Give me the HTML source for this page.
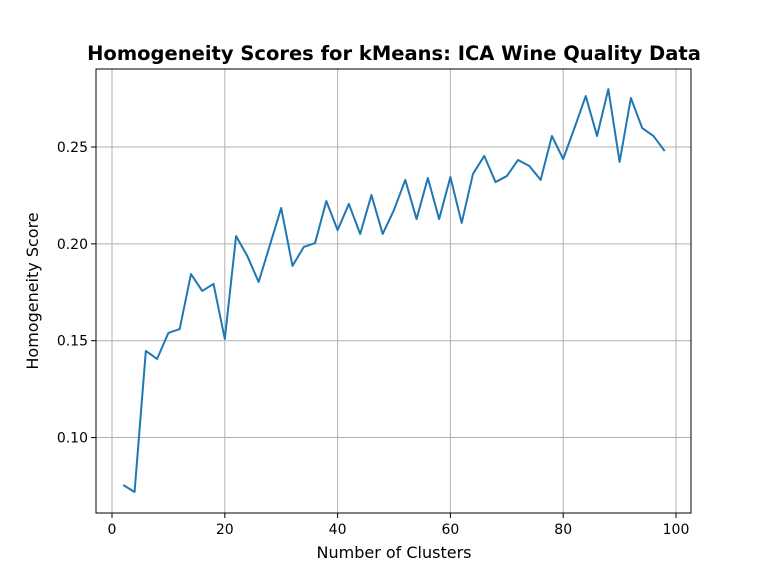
<!DOCTYPE html>
<html><head><meta charset="utf-8"><style>body{margin:0;background:#fff}svg{display:block;font-family:"DejaVu Sans","Liberation Sans",sans-serif}</style></head>
<body>
<svg id="chart" width="768" height="576"></svg>
<script>
const xValues = [2,4,6,8,10,12,14,16,18,20,22,24,26,28,30,32,34,36,38,40,42,44,46,48,50,52,54,56,58,60,62,64,66,68,70,72,74,76,78,80,82,84,86,88,90,92,94,96,98];
const yValues = [0.0755,0.0719,0.1447,0.1406,0.154,0.156,0.1844,0.1757,0.1793,0.1509,0.204,0.1937,0.1803,0.1994,0.2185,0.1886,0.1984,0.2004,0.2221,0.2071,0.2206,0.2051,0.2252,0.2051,0.2175,0.233,0.2128,0.234,0.2128,0.2345,0.2108,0.2361,0.2454,0.2319,0.235,0.2433,0.2402,0.233,0.2557,0.2438,0.2598,0.2763,0.2557,0.2799,0.2423,0.2753,0.2598,0.2557,0.2479];
const xTicks = [0,20,40,60,80,100];
const yTicks = [0.10,0.15,0.20,0.25];
const NS="http://www.w3.org/2000/svg";
const svg=document.getElementById('chart');
const L=96,R=691,T=69,B=513;
const X=v=>112+(v-0)*5.64;
const Y=v=>147-(v-0.25)*1937;
function mk(t,a,p){const e=document.createElementNS(NS,t);for(const k in a)e.setAttribute(k,a[k]);(p||svg).appendChild(e);return e;}
xTicks.forEach(t=>{
  const g=mk('line',{x1:X(t),x2:X(t),y1:T,y2:B,stroke:'#b0b0b0','stroke-width':1});
  
  
  mk('line',{x1:X(t),x2:X(t),y1:B,y2:B+5,stroke:'#000'});
  const tx=mk('text',{x:X(t),y:B+21,'text-anchor':'middle','font-size':14});
  tx.textContent=t;
  
  
});
yTicks.forEach(t=>{
  const g=mk('line',{x1:L,x2:R,y1:Y(t),y2:Y(t),stroke:'#b0b0b0','stroke-width':1});
  
  
  mk('line',{x1:L-5,x2:L,y1:Y(t),y2:Y(t),stroke:'#000'});
  const tx=mk('text',{x:L-8,y:Y(t)+5,'text-anchor':'end','font-size':14});
  tx.textContent=t.toFixed(2);
  
  
});
const pts=xValues.map((x,i)=>X(x)+','+Y(yValues[i])).join(' ');
const line=mk('polyline',{points:pts,fill:'none',stroke:'#1f77b4','stroke-width':2,'stroke-linejoin':'round'});


const fr=mk('rect',{x:L,y:T,width:R-L,height:B-T,fill:'none',stroke:'#000','stroke-width':1});


const title=mk('text',{x:394,y:60,'text-anchor':'middle','font-size':19.5,'font-weight':'bold'});
title.textContent='Homogeneity Scores for kMeans: ICA Wine Quality Data';


const xl=mk('text',{x:394,y:558,'text-anchor':'middle','font-size':16});
xl.textContent='Number of Clusters';


const yl=mk('text',{x:38,y:291,'text-anchor':'middle','font-size':16,transform:'rotate(-90 38 291)'});
yl.textContent='Homogeneity Score';


</script>
</body></html>
